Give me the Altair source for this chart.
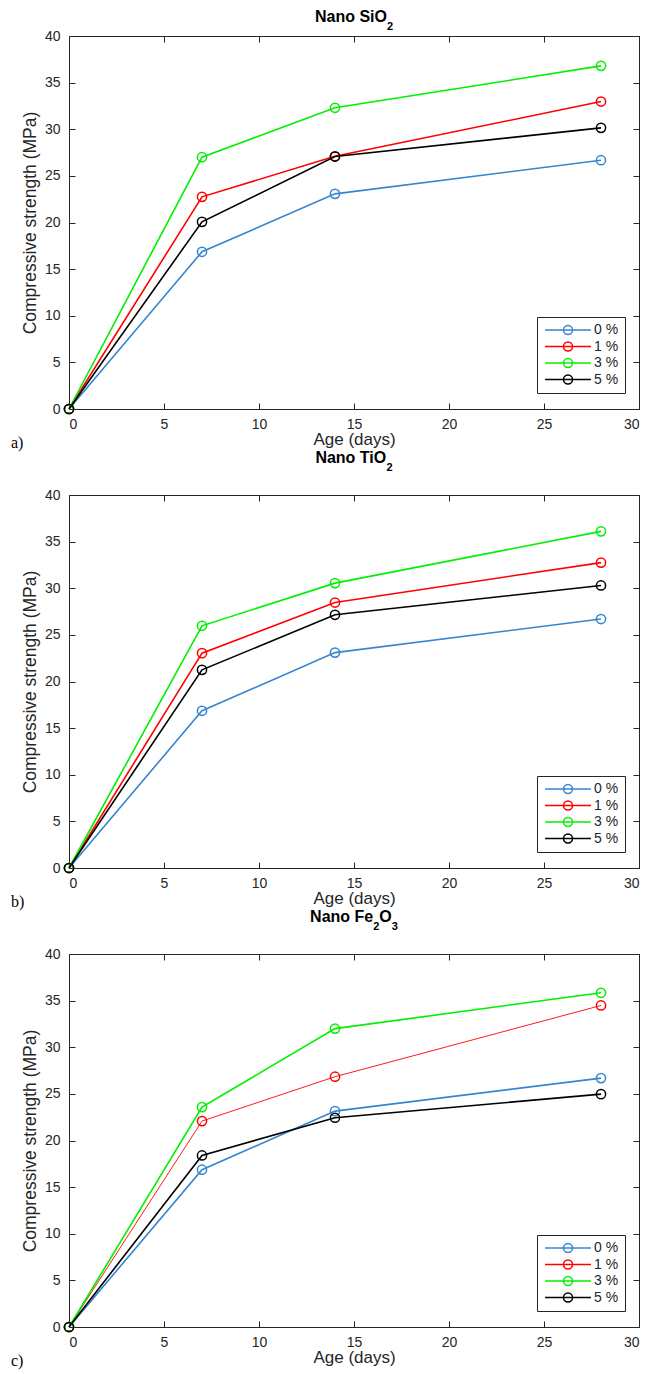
import altair as alt
import pandas as pd

days = [0, 7, 14, 28]
series = ["0 %", "1 %", "3 %", "5 %"]
colors = ["#3585d0", "#ff0000", "#00f000", "#000000"]

# title pieces: (text, is_subscript)
title_parts = [
    [("Nano SiO", False), ("2", True)],
    [("Nano TiO", False), ("2", True)],
    [("Nano Fe", False), ("2", True), ("O", False), ("3", True)],
]
panel_labels = ["a)", "b)", "c)"]

sio2_0 = [0, 16.86, 23.07, 26.68]
sio2_1 = [0, 22.75, 27.1, 32.97]
sio2_3 = [0, 27.0, 32.3, 36.8]
sio2_5 = [0, 20.07, 27.07, 30.15]

tio2_0 = [0, 16.86, 23.1, 26.7]
tio2_1 = [0, 23.04, 28.47, 32.75]
tio2_3 = [0, 25.97, 30.55, 36.1]
tio2_5 = [0, 21.25, 27.15, 30.3]

fe2o3_0 = [0, 16.87, 23.15, 26.69]
fe2o3_1 = [0, 22.08, 26.84, 34.48]
fe2o3_3 = [0, 23.58, 32.0, 35.84]
fe2o3_5 = [0, 18.4, 22.44, 24.97]

panel_values = [
    [sio2_0, sio2_1, sio2_3, sio2_5],
    [tio2_0, tio2_1, tio2_3, tio2_5],
    [fe2o3_0, fe2o3_1, fe2o3_3, fe2o3_5],
]
line_widths = [
    [1.6, 1.6, 1.6, 1.6],
    [1.6, 1.6, 1.6, 1.6],
    [1.6, 0.9, 1.6, 1.6],
]

# ---- style / layout ----
W, H = 570, 373
FONT = "Liberation Sans"
AX = "#262626"
x_ticks = [0, 5, 10, 15, 20, 25, 30]
y_ticks = [0, 5, 10, 15, 20, 25, 30, 35, 40]
title_baseline = [-14, -32, -32]
TITLE_SIZE, SUB_SIZE, SUB_SHIFT = 16, 11, 8
# Arial-bold advance widths (per em) for title text measurement
bold_w = {"N": .722, "a": .556, "n": .611, "o": .611, " ": .278, "S": .667,
          "i": .278, "O": .778, "T": .611, "F": .611, "e": .556, "2": .556, "3": .556}

color_scale = alt.Scale(domain=series, range=colors)
legend_path = "M-5.1,0L5.1,0M1,0A1,1,0,1,1,-1,0A1,1,0,1,1,1,0"
label_pad = "\u2003"


def make_legend():
    return alt.Legend(
        title=None, orient="none", legendX=468, legendY=281,
        symbolType=legend_path, symbolSize=81, symbolStrokeWidth=1.5,
        symbolFillColor="transparent", symbolOffset=18, labelOffset=19,
        labelFont=FONT, labelFontSize=14, labelColor=AX,
        labelExpr="datum.label + '" + label_pad + "'",
        strokeColor=AX, fillColor="white", padding=6, rowPadding=0.5)


def text_layer(text, x, y, size, weight="bold", font=FONT, align="left", baseline="alphabetic"):
    return alt.Chart(pd.DataFrame({"t": [text]})).mark_text(
        align=align, baseline=baseline, font=font, fontSize=size,
        fontWeight=weight, color="black"
    ).encode(text="t:N", x=alt.value(x), y=alt.value(y))


def panel(i):
    rows = []
    for s, vals, lw in zip(series, panel_values[i], line_widths[i]):
        for d, v in zip(days, vals):
            rows.append({"day": d, "strength": v, "series": s, "width": lw})
    df = pd.DataFrame(rows)
    xs = alt.Scale(domain=[0, 30], nice=False)
    ys = alt.Scale(domain=[0, 40], nice=False)

    lines = alt.Chart(df).mark_line().encode(
        x=alt.X("day:Q", scale=xs, axis=alt.Axis(
            orient="bottom", values=x_ticks, ticks=False, tickSize=0, grid=False,
            domain=True, domainColor=AX, labelFont=FONT, labelFontSize=14,
            labelColor=AX, labelPadding=8, title="Age (days)", titleFont=FONT,
            titleFontSize=17, titleFontWeight="normal", titleColor=AX, titlePadding=0)),
        y=alt.Y("strength:Q", scale=ys, axis=alt.Axis(
            orient="left", values=y_ticks, ticks=False, tickSize=0, grid=False,
            domain=True, domainColor=AX, labelFont=FONT, labelFontSize=14,
            labelColor=AX, labelPadding=9, title="Compressive strength (MPa)",
            titleFont=FONT, titleFontSize=17.5, titleFontWeight="normal",
            titleColor=AX, titlePadding=5)),
        color=alt.Color("series:N", scale=color_scale, legend=make_legend()),
        strokeWidth=alt.StrokeWidth("width:Q", scale=None),
        detail="series:N",
    )

    points = alt.Chart(df).mark_point(filled=False, size=85, strokeWidth=1.5, opacity=1).encode(
        x=alt.X("day:Q", scale=xs, axis=alt.Axis(
            orient="top", offset=-H, values=x_ticks, labels=False, domain=False,
            ticks=True, tickSize=6, tickColor=AX, grid=False, title=None)),
        y=alt.Y("strength:Q", scale=ys, axis=alt.Axis(
            orient="right", offset=-W, values=y_ticks, labels=False, domain=False,
            ticks=True, tickSize=6, tickColor=AX, grid=False, title=None)),
        color=alt.Color("series:N", scale=color_scale, legend=make_legend()),
    )

    ghost = alt.Chart(df).mark_point(opacity=0).encode(
        x=alt.X("day:Q", scale=xs, axis=alt.Axis(
            orient="bottom", offset=-H, values=x_ticks, labels=False, domain=True,
            domainColor=AX, ticks=True, tickSize=6, tickColor=AX, grid=False, title=None)),
        y=alt.Y("strength:Q", scale=ys, axis=alt.Axis(
            orient="left", offset=-W, values=y_ticks, labels=False, domain=True,
            domainColor=AX, ticks=True, tickSize=6, tickColor=AX, grid=False, title=None)),
    )

    # title made of pieces so that the chemical subscripts sit below the baseline
    parts = title_parts[i]
    widths = [sum(bold_w[c] for c in t) * (SUB_SIZE if sub else TITLE_SIZE) for t, sub in parts]
    x0 = W / 2 - sum(widths) / 2
    texts = []
    for (t, sub), w in zip(parts, widths):
        texts.append(text_layer(t, x0, title_baseline[i] + (SUB_SHIFT if sub else 0),
                                SUB_SIZE if sub else TITLE_SIZE))
        x0 += w
    texts.append(text_layer(panel_labels[i], -58, H + 34, 16, weight="normal",
                            font="Liberation Serif", baseline="middle"))

    return alt.layer(lines, points, ghost, *texts).resolve_axis(
        x="independent", y="independent"
    ).properties(width=W, height=H)


chart = alt.vconcat(panel(0), panel(1), panel(2), spacing=-3).resolve_scale(
    color="independent"
).properties(
    padding={"left": 2, "top": 0, "right": 5, "bottom": 0}
).configure_view(stroke=None).configure(background="white")

chart.save("out.html", embed_options={"renderer": "svg", "actions": False})
